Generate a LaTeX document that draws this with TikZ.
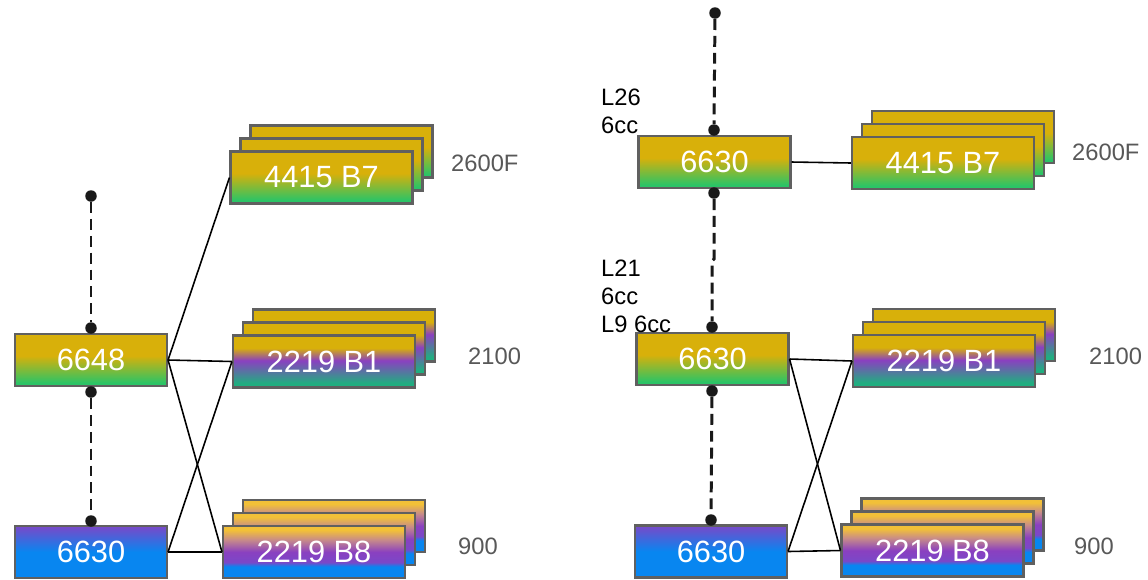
\documentclass[tikz,border=0pt]{standalone}
\usepackage{fontspec}
\setmainfont{Liberation Sans}
\usetikzlibrary{positioning}

\definecolor{cardyellow}{HTML}{D8B00A}
\definecolor{cardgold}{HTML}{F2C038}
\definecolor{cardgreen}{HTML}{2BC466}
\definecolor{cardteal}{HTML}{20AE80}
\definecolor{cardpurple}{HTML}{8A40C0}
\definecolor{cardviolet}{HTML}{7A48C8}
\definecolor{cardblue}{HTML}{0886F0}
\definecolor{cardtan}{HTML}{C88C88}
\definecolor{cardedge}{HTML}{606060}
\definecolor{sidegray}{HTML}{585858}

\pgfdeclareverticalshading{goldgreen}{100bp}{color(0bp)=(cardgreen); color(28bp)=(cardgreen); color(54bp)=(cardyellow); color(100bp)=(cardyellow)}
\pgfdeclareverticalshading{violetblue}{100bp}{color(0bp)=(cardblue); color(50bp)=(cardblue); color(75bp)=(cardviolet); color(100bp)=(cardviolet)}
\pgfdeclareverticalshading{goldpurpleteal}{100bp}{color(0bp)=(cardteal); color(29bp)=(cardteal); color(51bp)=(cardpurple); color(63bp)=(cardyellow); color(100bp)=(cardyellow)}
\pgfdeclareverticalshading{goldpurpleblue}{100bp}{color(0bp)=(cardblue); color(36bp)=(cardblue); color(40bp)=(cardviolet); color(50bp)=(cardpurple); color(62bp)=(cardtan); color(71bp)=(cardgold); color(100bp)=(cardgold)}

\newcommand{\cardstack}[5]{%
  \foreach \k in {2,1} {\node[card, minimum width=3.64cm, shading=#4] at ({#2+10*\k},{#3-13*\k}) {};}
  \node[card, minimum width=3.64cm, shading=#4] (#1) at (#2,#3) {#5};
}

\begin{document}
\begin{tikzpicture}[x=0.02cm, y=-0.02cm,
  card/.style={rectangle, draw=cardedge, line width=1.2pt, minimum width=3.04cm,
    minimum height=1.04cm, inner sep=0pt, text=white, font=\fontsize{17.5}{20}\selectfont},
  dot/.style={circle, fill=black!90, minimum size=0.23cm, inner sep=0pt},
  feed/.style={line width=1.7pt, black!90, dash pattern=on 6.2pt off 3.4pt},
  link/.style={line width=0.9pt, black},
  sidenum/.style={anchor=west, text=sidegray, font=\fontsize{13.5}{16}\selectfont},
  note/.style={anchor=west, align=left, font=\fontsize{13.5}{15.9}\selectfont}]
\useasboundingbox (0,0) rectangle (1148,579);

\node[card, shading=goldgreen] (a6648) at (91,360) {6648};
\node[card, shading=violetblue] (a6630) at (91,552) {6630};
\cardstack{a4415}{321.5}{177.5}{goldgreen}{4415 B7}
\cardstack{a2219b}{324}{361.5}{goldpurpleteal}{2219 B1}
\cardstack{a2219c}{314}{552}{goldpurpleblue}{2219 B8}

\node[card, shading=goldgreen] (b6630t) at (714.5,162) {6630};
\node[card, shading=goldgreen] (b6630m) at (712.5,359) {6630};
\node[card, shading=violetblue] (b6630b) at (711,551.5) {6630};
\cardstack{b4415}{943}{163}{goldgreen}{4415 B7}
\cardstack{b2219b}{944}{361}{goldpurpleteal}{2219 B1}
\cardstack{b2219c}{932.5}{550.5}{goldpurpleblue}{2219 B8}

\node[dot] (ad1) at (91,196) {};
\node[dot] (ad2) at (91,328) {};
\node[dot] (ad3) at (91,392) {};
\node[dot] (ad4) at (91,521) {};
\node[dot] (bd1) at (715,13) {};
\node[dot] (bd2) at (714,130) {};
\node[dot] (bd3) at (714,193) {};
\node[dot] (bd4) at (712,327) {};
\node[dot] (bd5) at (712,391) {};
\node[dot] (bd6) at (711,520) {};
\coordinate (bj1) at (714,259);
\coordinate (bj2) at (712,261);

\draw[feed] (ad1) -- (ad2);
\draw[feed] (ad3) -- (ad4);
\draw[feed] (bd1) -- (bd2);
\draw[feed] (bd3) -- (bj1) -- (bj2) -- (bd4);
\draw[feed] (bd5) -- (bd6);

\draw[link] (a6648.east) -- (a4415.west);
\draw[link] (a6648.east) -- (a2219b.west);
\draw[link] (a6648.east) -- (a2219c.west);
\draw[link] (a6630.east) -- (a2219b.west);
\draw[link] (a6630.east) -- (a2219c.west);
\draw[link] (b6630t.east) -- (b4415.west);
\draw[link] (b6630m.east) -- (b2219b.west);
\draw[link] (b6630m.east) -- (b2219c.west);
\draw[link] (b6630b.east) -- (b2219b.west);
\draw[link] (b6630b.east) -- (b2219c.west);

\node[sidenum] (an1) at (445,163) {2600F};
\node[sidenum] (an2) at (462,356) {2100};
\node[sidenum] (an3) at (452,546) {900};
\node[sidenum] (bn1) at (1066,152) {2600F};
\node[sidenum] (bn2) at (1083,356) {2100};
\node[sidenum] (bn3) at (1068,546) {900};

\node[note] (bl1) at (595,111) {L26\\6cc};
\node[note] (bl2) at (595,296) {L21\\6cc\\L9 6cc};
\end{tikzpicture}
\end{document}
